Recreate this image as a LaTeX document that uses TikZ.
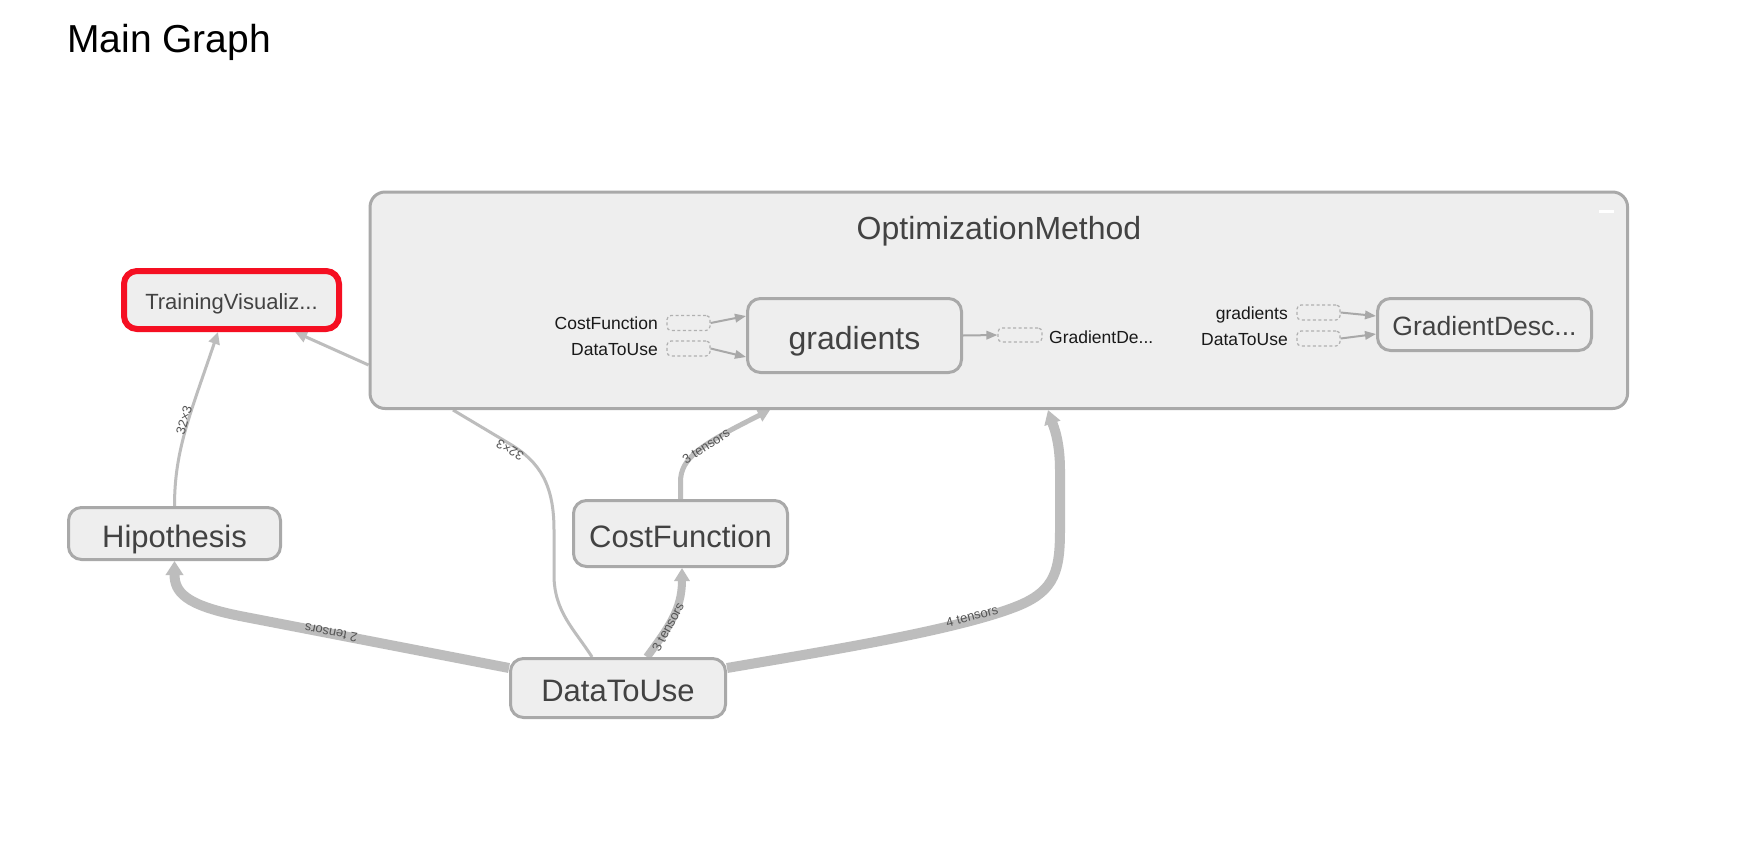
\documentclass[tikz,border=0pt]{standalone}
\usepackage{fontspec}
\setmainfont{Liberation Sans}
\usetikzlibrary{arrows.meta,backgrounds}
\definecolor{nodefill}{HTML}{EEEEEE}
\definecolor{nodeborder}{HTML}{A9A9A9}
\definecolor{edgegray}{HTML}{BDBDBD}
\definecolor{inedge}{HTML}{A8A8A8}
\definecolor{dashgray}{HTML}{B0B0B0}
\definecolor{txt}{HTML}{424242}
\definecolor{lbl}{HTML}{555555}
\definecolor{tvred}{HTML}{F50F22}
\begin{document}
\begin{tikzpicture}[x=1pt,y=-1pt,
  opnode/.style={draw=nodeborder, line width=3pt, fill=nodefill, rounded corners=13pt,
    inner sep=0pt, text=txt, font=\fontsize{31}{31}\selectfont, text height=27pt, text depth=0pt},
  smalllbl/.style={inner sep=0pt, text=black!90, font=\fontsize{17.5}{17.5}\selectfont,
    text height=13.5pt, text depth=0pt},
  dbox/.style={draw=dashgray, line width=1.2pt, dash pattern=on 3pt off 2.5pt,
    rounded corners=4pt, fill=nodefill, inner sep=0pt},
  inarrow/.style={draw=inedge, line width=2pt, -{Triangle[length=11pt,width=8.5pt]}},
  edge/.style={draw=edgegray, line width=#1},
  elbl/.style={inner sep=0pt, text=lbl, font=\fontsize{13}{13}\selectfont},
]
\useasboundingbox (0,0) rectangle (1746,844);

% title
\node[anchor=base west, inner sep=0pt, font=\fontsize{39}{39}\selectfont, text=black] (title) at (67,52) {Main Graph};

% group
\node[draw=nodeborder, line width=3pt, fill=nodefill, rounded corners=15pt,
  minimum width=1257.5pt, minimum height=216.5pt, inner sep=0pt] (opt) at (998.8,300.25) {};
\node[inner sep=0pt, text=txt, font=\fontsize{32}{32}\selectfont, text height=25pt, text depth=0pt]
  (optt) at (999,227) {OptimizationMethod};
\draw[white, line width=2.6pt] (1599,211.5) -- (1614,211.5);

% nodes inside group
\node[opnode, minimum width=214pt, minimum height=74pt, font=\fontsize{32}{32}\selectfont, text height=28pt]
  (grad) at (854.5,335.5) {gradients};
\node[opnode, minimum width=214pt, minimum height=52pt, font=\fontsize{26.5}{26.5}\selectfont, text height=22.5pt]
  (gd) at (1484.5,324.5) {GradientDesc...};

\node[smalllbl, anchor=east] (lcf) at (658,323) {CostFunction};
\node[smalllbl, anchor=east] (ldu) at (658,349) {DataToUse};
\node[dbox, minimum width=43pt, minimum height=15pt] (dcf) at (688.5,323) {};
\node[dbox, minimum width=43pt, minimum height=15pt] (ddu) at (688.5,348.5) {};

\node[dbox, minimum width=44pt, minimum height=14pt] (dgd) at (1020,335) {};
\node[smalllbl, anchor=west] (lgd) at (1049,337) {GradientDe...};

\node[smalllbl, anchor=east] (lg2) at (1288,313) {gradients};
\node[smalllbl, anchor=east] (ld2) at (1288,339) {DataToUse};
\node[dbox, minimum width=43pt, minimum height=15pt] (dg2) at (1318.5,312.5) {};
\node[dbox, minimum width=43pt, minimum height=15pt] (dd2) at (1318.5,338.5) {};

\draw[inarrow] (dcf.east) -- ([yshift=19.5pt]grad.west);
\draw[inarrow] (ddu.east) -- ([yshift=-21.5pt]grad.west);
\draw[inarrow] (grad.east) -- (dgd.west);
\draw[inarrow] (dg2.east) -- ([yshift=8.5pt]gd.west);
\draw[inarrow] (dd2.east) -- ([yshift=-9.5pt]gd.west);

% outer nodes
\node[opnode, draw=tvred, line width=6pt, minimum width=215pt, minimum height=58pt,
  font=\fontsize{22}{22}\selectfont, text height=18.5pt] (tv) at (231.5,300) {TrainingVisualiz...};
\node[opnode, minimum width=212pt, minimum height=52pt] (hip) at (174.5,533.5) {Hipothesis};
\node[opnode, minimum width=214pt, minimum height=66pt] (cf) at (680.5,533.5) {CostFunction};
\node[opnode, minimum width=215pt, minimum height=59pt] (dtu) at (618,688) {DataToUse};

\begin{pgfonlayer}{background}
\fill[white] (0,0) rectangle (1746,844);
% Hipothesis -> TrainingVisualiz
\draw[edge=3pt, -{Triangle[length=12pt,width=11pt]}]
  (hip.north) .. controls (174.5,450) and (190,415) .. ([xshift=-13.5pt]tv.south);
% OptimizationMethod -> TrainingVisualiz
\draw[edge=3pt, -{Triangle[length=12pt,width=11pt]}]
  ([yshift=-64.75pt]opt.west) -- ([xshift=63.5pt]tv.south);
% DataToUse -- OptimizationMethod (32x3)
\draw[edge=3pt]
  ([xshift=-26pt]dtu.north) .. controls (575,630) and (554,612) .. (554,575) -- (554,530)
  .. controls (554,485) and (540,462) .. (510,444) -- ([xshift=-545.8pt]opt.south);
% DataToUse -> Hipothesis
\draw[edge=10pt, -{Triangle[length=14pt,width=17pt]}]
  ([yshift=20pt]dtu.west) -- (240,616) .. controls (185,605) and (174.5,592) .. (hip.south);
% DataToUse -> CostFunction
\draw[edge=8pt, -{Triangle[length=13pt,width=15pt]}]
  ([xshift=29pt]dtu.north) .. controls (668,628) and (682,610) .. ([xshift=1.5pt]cf.south);
% CostFunction -> OptimizationMethod
\draw[edge=5pt, -{Triangle[length=12pt,width=13pt]}]
  (cf.north) -- (680.5,482) .. controls (680.5,458) and (700,445) .. ([xshift=-228.8pt]opt.south);
% DataToUse -> OptimizationMethod
\draw[edge=10pt, -{Triangle[length=14pt,width=16pt]}]
  ([yshift=20pt]dtu.east) .. controls (820,652) and (960,630) .. (1020,605)
  .. controls (1055,590) and (1060,570) .. (1060,530) -- (1060,470)
  .. controls (1060,440) and (1053,425) .. ([xshift=49.2pt]opt.south);
\end{pgfonlayer}

% edge labels
\node[elbl, rotate=74] (l1) at (184,420) {32×3};
\node[elbl, rotate=150] (l2) at (510,450) {32×3};
\node[elbl, rotate=169] (l3) at (331,633) {2 tensors};
\node[elbl, rotate=62] (l4) at (668,627) {3 tensors};
\node[elbl, rotate=33] (l5) at (706,446) {3 tensors};
\node[elbl, rotate=15] (l6) at (972,616) {4 tensors};
\end{tikzpicture}
\end{document}
